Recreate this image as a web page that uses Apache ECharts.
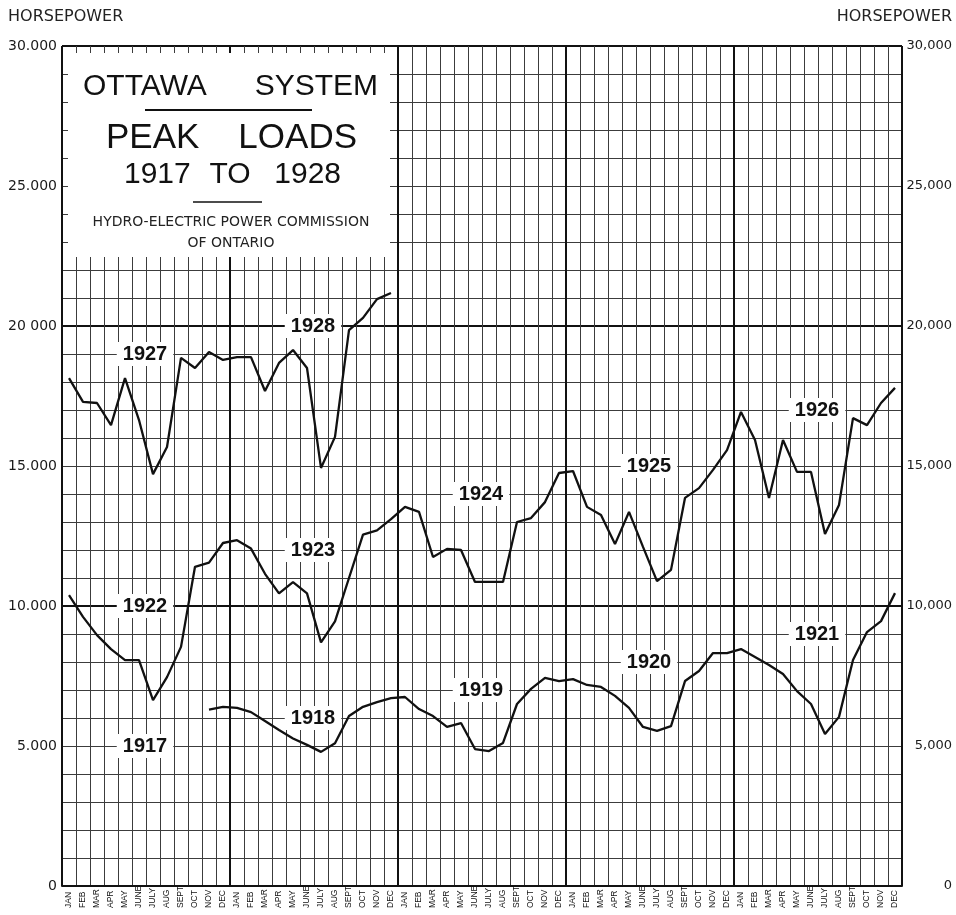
<!DOCTYPE html>
<html>
<head>
<meta charset="utf-8">
<title>Ottawa System Peak Loads 1917 to 1928</title>
<script src="https://cdn.jsdelivr.net/npm/echarts@6/dist/echarts.min.js"></script>
<style>
  html, body { margin: 0; padding: 0; background: #fff; }
  #main { width: 956px; height: 915px; }
</style>
</head>
<body>
<div id="main"></div>
<script>
// month labels, 5 years across
var monthNames = ['JAN', 'FEB', 'MAR', 'APR', 'MAY', 'JUNE', 'JULY', 'AUG', 'SEPT', 'OCT', 'NOV', 'DEC'];
var months = [];
for (var k = 0; k < 5; k++) months = months.concat(monthNames);

// horsepower, one array per year
var y1917 = [null, null, null, null, null, null, null, null, null, null, 6300, 6400];
var y1918 = [6360, 6210, 5890, 5570, 5270, 5040, 4790, 5100, 6070, 6400, 6570, 6710];
var y1919 = [6750, 6320, 6070, 5680, 5820, 4890, 4820, 5110, 6500, 7040, 7430, 7320];
var y1920 = [7390, 7180, 7110, 6790, 6360, 5680, 5540, 5710, 7320, 7680, 8320, 8320];
var y1921 = [8460, 8180, 7890, 7570, 6960, 6500, 5430, 6040, 8070, 9070, 9460, 10460];
var y1922 = [10390, 9610, 8960, 8460, 8070, 8070, 6640, 7460, 8540, 11400, 11550, 12250];
var y1923 = [12350, 12050, 11150, 10450, 10850, 10450, 8700, 9450, 11000, 12550, 12700, 13100];
var y1924 = [13540, 13360, 11750, 12040, 12000, 10860, 10860, 10860, 13000, 13140, 13710, 14750];
var y1925 = [14820, 13540, 13250, 12210, 13360, 12110, 10890, 11290, 13860, 14210, 14860, 15570];
var y1926 = [16930, 15930, 13860, 15930, 14790, 14790, 12570, 13610, 16710, 16460, 17250, 17790];
var y1927 = [18140, 17290, 17250, 16460, 18140, 16640, 14710, 15680, 18860, 18500, 19070, 18790];
var y1928 = [18890, 18890, 17680, 18680, 19140, 18500, 14930, 16040, 19850, 20290, 20960, 21180];
var emptyYear = [null, null, null, null, null, null, null, null, null, null, null, null];

var rowLow = [].concat(y1917, y1918, y1919, y1920, y1921);
var rowMid = [].concat(y1922, y1923, y1924, y1925, y1926);
var rowTop = [].concat(y1927, y1928, emptyYear, emptyYear, emptyYear);

// year tags: [name, month index, horsepower]
var tagsLow = [['1917', 5, 5000], ['1918', 17, 6000], ['1919', 29, 7000], ['1920', 41, 8000], ['1921', 53, 9000]];
var tagsMid = [['1922', 5, 10000], ['1923', 17, 12000], ['1924', 29, 14000], ['1925', 41, 15000], ['1926', 53, 17000]];
var tagsTop = [['1927', 5, 19000], ['1928', 17, 20000]];

var leftTicks = {0: '0', 5000: '5.000', 10000: '10.000', 15000: '15.000', 20000: '20 000', 25000: '25.000', 30000: '30.000'};
var rightTicks = {0: '0', 5000: '5,000', 10000: '10,000', 15000: '15,000', 20000: '20,000', 25000: '25,000', 30000: '30,000'};

function tagPoints(tags) {
    return tags.map(function (t) {
        return { name: t[0], coord: [t[1], t[2]] };
    });
}

function loadLine(data, tags) {
    return {
        type: 'line',
        data: data,
        xAxisIndex: 0,
        yAxisIndex: 0,
        symbol: 'none',
        connectNulls: false,
        lineStyle: { color: '#111', width: 2.3 },
        z: 5,
        markPoint: {
            symbol: 'circle',
            symbolSize: 1,
            itemStyle: { color: 'rgba(0,0,0,0)' },
            label: {
                show: true,
                position: 'inside',
                offset: [6, 0],
                formatter: '{b}',
                color: '#111',
                fontFamily: 'Liberation Sans',
                fontWeight: 'bold',
                fontSize: 20,
                backgroundColor: '#fff',
                padding: [2, 6]
            },
            data: tagPoints(tags)
        }
    };
}

var FONT = 'Liberation Sans';
var SANS = 'DejaVu Sans';
var GRID = '#3c3c3c';

var myChart = echarts.init(document.getElementById('main'));
var option = {
    animation: false,
    backgroundColor: '#fff',
    grid: {
        left: 62,
        right: 54,
        top: 46,
        bottom: 29,
        containLabel: false,
        outerBoundsMode: 'none'
    },
    xAxis: [
        {
            type: 'category',
            data: months,
            boundaryGap: true,
            position: 'bottom',
            axisLine: { show: true, lineStyle: { color: '#111', width: 2 } },
            axisTick: { show: false },
            axisLabel: {
                interval: 0,
                rotate: 90,
                align: 'left',
                verticalAlign: 'middle',
                margin: 22,
                fontSize: 8.5,
                fontFamily: FONT,
                color: '#111'
            },
            splitLine: { show: true, interval: 0, lineStyle: { color: GRID, width: 1 } }
        },
        {
            // year boundaries
            type: 'value',
            min: 0,
            max: 60,
            interval: 12,
            position: 'top',
            axisLine: { show: false },
            axisTick: { show: false },
            axisLabel: { show: false },
            splitLine: { show: true, lineStyle: { color: '#111', width: 2 } }
        }
    ],
    yAxis: [
        {
            type: 'value',
            min: 0,
            max: 30000,
            interval: 1000,
            position: 'left',
            axisLine: { show: false },
            axisTick: { show: false },
            axisLabel: {
                margin: 5,
                fontSize: 14,
                fontFamily: SANS,
                color: '#1a1a1a',
                formatter: function (v) { return leftTicks[v] || ''; }
            },
            splitLine: { show: true, lineStyle: { color: GRID, width: 1 } }
        },
        {
            type: 'value',
            min: 0,
            max: 30000,
            interval: 1000,
            position: 'right',
            axisLine: { show: false },
            axisTick: { show: false },
            axisLabel: {
                align: 'right',
                margin: 50,
                fontSize: 13,
                fontFamily: SANS,
                color: '#1a1a1a',
                formatter: function (v) { return rightTicks[v] || ''; }
            },
            splitLine: { show: false }
        },
        {
            // heavy lines every 10,000
            type: 'value',
            min: 0,
            max: 30000,
            interval: 10000,
            position: 'left',
            axisLine: { show: false },
            axisTick: { show: false },
            axisLabel: { show: false },
            splitLine: { show: true, lineStyle: { color: '#111', width: 2 } }
        }
    ],
    graphic: [
        { type: 'text', x: 8, y: 17, z: 20, style: { text: 'HORSEPOWER', font: '16px ' + SANS, fill: '#222', textAlign: 'left', textVerticalAlign: 'middle' } },
        { type: 'text', x: 952, y: 17, z: 20, style: { text: 'HORSEPOWER', font: '16px ' + SANS, fill: '#222', textAlign: 'right', textVerticalAlign: 'middle' } },
        // title box
        { type: 'rect', z: 20, shape: { x: 68, y: 53, width: 322, height: 204 }, style: { fill: '#fff' } },
        { type: 'text', x: 83, y: 87, z: 21, style: { text: 'OTTAWA', font: '30px ' + FONT, fill: '#111', textAlign: 'left', textVerticalAlign: 'middle' } },
        { type: 'text', x: 378, y: 87, z: 21, style: { text: 'SYSTEM', font: '30px ' + FONT, fill: '#111', textAlign: 'right', textVerticalAlign: 'middle' } },
        { type: 'line', z: 21, shape: { x1: 145, y1: 110, x2: 312, y2: 110 }, style: { stroke: '#111', lineWidth: 2 } },
        { type: 'text', x: 106, y: 138, z: 21, style: { text: 'PEAK', font: '35px ' + FONT, fill: '#111', textAlign: 'left', textVerticalAlign: 'middle' } },
        { type: 'text', x: 357, y: 138, z: 21, style: { text: 'LOADS', font: '35px ' + FONT, fill: '#111', textAlign: 'right', textVerticalAlign: 'middle' } },
        { type: 'text', x: 124, y: 175, z: 21, style: { text: '1917', font: '30px ' + FONT, fill: '#111', textAlign: 'left', textVerticalAlign: 'middle' } },
        { type: 'text', x: 230, y: 175, z: 21, style: { text: 'TO', font: '30px ' + FONT, fill: '#111', textAlign: 'center', textVerticalAlign: 'middle' } },
        { type: 'text', x: 341, y: 175, z: 21, style: { text: '1928', font: '30px ' + FONT, fill: '#111', textAlign: 'right', textVerticalAlign: 'middle' } },
        { type: 'line', z: 21, shape: { x1: 193, y1: 202, x2: 262, y2: 202 }, style: { stroke: '#111', lineWidth: 1.5 } },
        { type: 'text', x: 231, y: 222, z: 21, style: { text: 'HYDRO-ELECTRIC POWER COMMISSION', font: '14px ' + SANS, fill: '#222', textAlign: 'center', textVerticalAlign: 'middle' } },
        { type: 'text', x: 231, y: 243, z: 21, style: { text: 'OF ONTARIO', font: '14px ' + SANS, fill: '#222', textAlign: 'center', textVerticalAlign: 'middle' } }
    ],
    series: [
        loadLine(rowLow, tagsLow),
        loadLine(rowMid, tagsMid),
        loadLine(rowTop, tagsTop)
    ]
};
myChart.setOption(option);
</script>
</body>
</html>
